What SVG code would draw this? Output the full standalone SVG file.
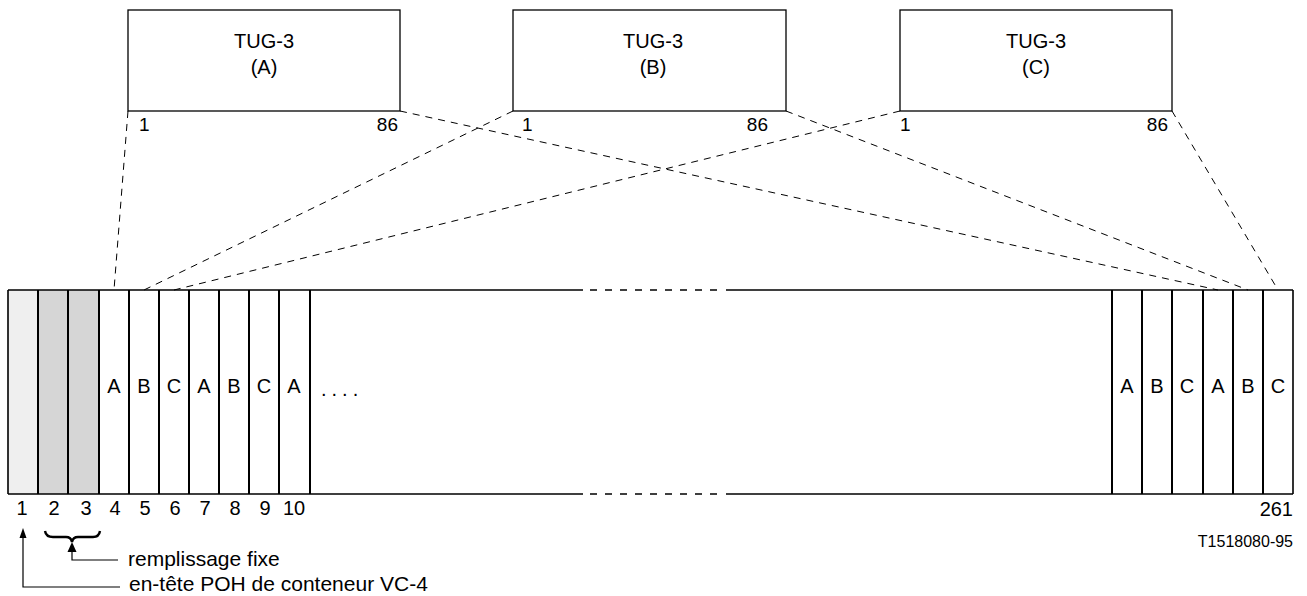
<svg xmlns="http://www.w3.org/2000/svg" width="1307" height="596" viewBox="0 0 1307 596">
<style>
text{font-family:"Liberation Sans",Arial,sans-serif;font-size:20px;fill:#000}
.box{fill:#fff;stroke:#000;stroke-width:1.3}
.col{stroke:#000;stroke-width:2;fill:none}
.edge{stroke:#000;stroke-width:1.6;fill:none}
.dash{stroke:#000;stroke-width:1;fill:none;stroke-dasharray:7 6}
.brk{stroke:#000;stroke-width:1.6;fill:none;stroke-dasharray:7 8}
.thin{stroke:#000;stroke-width:1.2;fill:none}
.mid{text-anchor:middle}
.end{text-anchor:end}
.ann{font-size:21px}
.pin{font-size:19px}
</style>

<g id="tug3-a">
<rect class="box" x="128" y="10" width="272" height="101"/>
<text class="mid" x="264" y="48">TUG-3</text>
<text class="mid" x="264" y="74">(A)</text>
<text class="pin" x="139" y="131">1</text>
<text class="pin end" x="398" y="131">86</text>
</g>
<g id="tug3-b">
<rect class="box" x="513" y="10" width="273" height="101"/>
<text class="mid" x="653" y="48">TUG-3</text>
<text class="mid" x="653" y="74">(B)</text>
<text class="pin" x="522" y="131">1</text>
<text class="pin end" x="768" y="131">86</text>
</g>
<g id="tug3-c">
<rect class="box" x="900" y="10" width="272" height="101"/>
<text class="mid" x="1036" y="48">TUG-3</text>
<text class="mid" x="1036" y="74">(C)</text>
<text class="pin" x="900" y="131">1</text>
<text class="pin end" x="1168" y="131">86</text>
</g>

<g id="vc4">
<rect x="8" y="290" width="30" height="204" fill="#efefef"/>
<rect x="38" y="290" width="61" height="204" fill="#d6d6d6"/>
<path class="edge" d="M8,290 H583 M726,290 H1293 M8,494 H583 M726,494 H1293 M8,290 V494 M1293,290 V494"/>
<path class="brk" d="M590,290 H718 M590,494 H718"/>
<path class="col" d="M38,290V494 M68,290V494 M99,290V494 M129,290V494 M159,290V494 M189,290V494 M219,290V494 M249,290V494 M279,290V494 M310,290V494 M1112,290V494 M1142,290V494 M1172,290V494 M1203,290V494 M1233,290V494 M1263,290V494"/>
<text class="mid" x="114" y="393">A</text>
<text class="mid" x="144" y="393">B</text>
<text class="mid" x="174" y="393">C</text>
<text class="mid" x="204" y="393">A</text>
<text class="mid" x="234" y="393">B</text>
<text class="mid" x="264" y="393">C</text>
<text class="mid" x="294" y="393">A</text>
<text x="321" y="396" style="letter-spacing:5px">....</text>
<text class="mid" x="1127" y="393">A</text>
<text class="mid" x="1157" y="393">B</text>
<text class="mid" x="1187" y="393">C</text>
<text class="mid" x="1218" y="393">A</text>
<text class="mid" x="1248" y="393">B</text>
<text class="mid" x="1278" y="393">C</text>
<text class="mid" x="22" y="515">1</text>
<text class="mid" x="54" y="515">2</text>
<text class="mid" x="86" y="515">3</text>
<text class="mid" x="115" y="515">4</text>
<text class="mid" x="145" y="515">5</text>
<text class="mid" x="175" y="515">6</text>
<text class="mid" x="205" y="515">7</text>
<text class="mid" x="235" y="515">8</text>
<text class="mid" x="265" y="515">9</text>
<text class="mid" x="294" y="515">10</text>
<text class="end" x="1293" y="516">261</text>
<text class="end" x="1293" y="547" style="font-size:16px">T1518080-95</text>
</g>

<g id="connectors">
<path class="dash" d="M128,111 L114,290"/>
<path class="dash" d="M513,111 L144,290"/>
<path class="dash" d="M900,111 L174,290"/>
<path class="dash" d="M400,111 L1218,290"/>
<path class="dash" d="M786,111 L1248,290"/>
<path class="dash" d="M1172,111 L1278,290"/>
</g>

<g id="annotations">
<path d="M45,531 Q46,537 53,537 H66 Q71,537 72,542 Q73,537 78,537 H93 Q99,537 100,531" stroke="#000" stroke-width="2.4" fill="none"/>
<path class="thin" d="M120,587 H23 V536"/>
<polygon points="23,528 19.5,538 26.5,538" fill="#000"/>
<path class="thin" d="M118,560 H72 V550"/>
<polygon points="72,542 67.5,552 76.5,552" fill="#000"/>
<text class="ann" x="128" y="566">remplissage fixe</text>
<text class="ann" x="129" y="591">en-tête POH de conteneur VC-4</text>
</g>
</svg>
